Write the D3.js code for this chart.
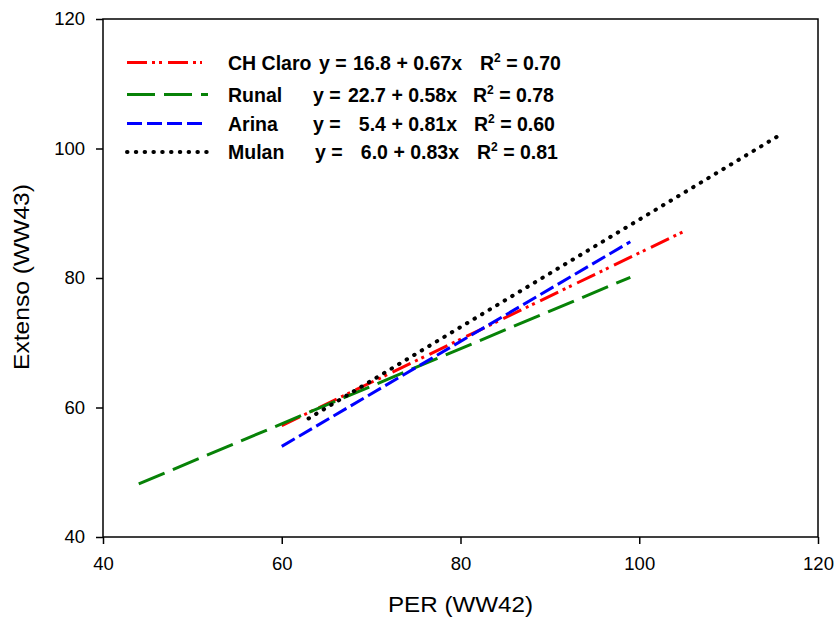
<!DOCTYPE html>
<html>
<head>
<meta charset="utf-8">
<script src="https://cdn.jsdelivr.net/npm/d3@7"></script>
<style>
body{margin:0;background:#fff;}
svg text{font-family:"Liberation Sans",Arial,sans-serif;}
</style>
</head>
<body>
<div id="container"></div>
<script>
// regression lines
var seriesNames=['CH Claro','Runal','Arina','Mulan'];
var intercepts=['16.8','22.7','5.4','6.0'];
var slopes=['0.67','0.58','0.81','0.83'];
var r2Values=['0.70','0.78','0.60','0.81'];
var xStart=[60,44,60,63];
var xEnd=[105,99,99,116];
var yStart=[57.2,48.2,54.0,58.3];
var yEnd=[87.2,80.1,85.6,102.3];
var xTicks=[40,60,80,100,120];
var yTicks=[40,60,80,100,120];

var colors=['#ff0000','#078207','#0000ff','#000000'];
var dashes=['20,5,3,4,3,6','28,9','15,5','0.5,8.3'];
var caps=['butt','butt','butt','round'];

var width=834, height=618;
var pLeft=103, pRight=818, pTop=19, pBottom=537;

var svg=d3.select('#container')
    .append('svg')
    .attr('width',width)
    .attr('height',height)
    .style('background-color','white');

var xScale=d3.scaleLinear().domain([40,120]).range([pLeft,pRight]);
var yScale=d3.scaleLinear().domain([40,120]).range([pBottom,pTop]);

var x_axis=d3.axisBottom(xScale).tickValues(xTicks).tickSize(7).tickPadding(13).tickSizeOuter(0);
var y_axis=d3.axisLeft(yScale).tickValues(yTicks).tickSize(7).tickPadding(11).tickSizeOuter(0);

var gx=svg.append('g')
    .attr('transform','translate(0,'+pBottom+')')
    .call(x_axis);
var gy=svg.append('g')
    .attr('transform','translate('+pLeft+',0)')
    .call(y_axis);

[gx,gy].forEach(function(g){
    g.select('.domain').remove();
    g.selectAll('line').attr('stroke','#000').attr('stroke-width',1.5);
    g.selectAll('text').attr('font-size','18.5px').attr('fill','#000');
});
gx.selectAll('text').attr('dy','0.71em');

// frame
svg.append('rect')
    .attr('x',pLeft).attr('y',pTop)
    .attr('width',pRight-pLeft).attr('height',pBottom-pTop)
    .attr('fill','none').attr('stroke','#000').attr('stroke-width',1.5);

// lines
var line=d3.line().x(function(d){return xScale(d[0]);}).y(function(d){return yScale(d[1]);});
seriesNames.forEach(function(name,i){
    svg.append('path')
        .datum([[xStart[i],yStart[i]],[xEnd[i],yEnd[i]]])
        .attr('d',line)
        .attr('fill','none')
        .attr('stroke',colors[i])
        .attr('stroke-width',i==3?4:3)
        .attr('stroke-dasharray',dashes[i])
        .attr('stroke-linecap',caps[i]);
});

// legend
var legY=[62.5,94.5,123.5,152];
var baseY=[70,102,131,159];
var lineEnd=[202,208,203,209];
var eqStart=[319,313,313,315];
var eqEnd=[462,457,457,459];
var r2X=[480,473,474,477];

seriesNames.forEach(function(name,i){
    svg.append('line')
        .attr('x1',127).attr('x2',lineEnd[i])
        .attr('y1',legY[i]).attr('y2',legY[i])
        .attr('stroke',colors[i])
        .attr('stroke-width',i==3?4:3)
        .attr('stroke-dasharray',dashes[i])
        .attr('stroke-linecap',caps[i]);
    var t=svg.append('g').attr('font-weight','bold').attr('font-size','19.5px').attr('fill','#000');
    t.append('text').attr('x',228).attr('y',baseY[i]).text(name);
    t.append('text').attr('x',eqStart[i]).attr('y',baseY[i]).text('y =');
    t.append('text').attr('x',eqEnd[i]).attr('y',baseY[i]).attr('text-anchor','end')
        .text(intercepts[i]+' + '+slopes[i]+'x');
    var r=t.append('text').attr('x',r2X[i]).attr('y',baseY[i]);
    r.append('tspan').text('R');
    r.append('tspan').attr('font-size','12px').attr('dy',-8).text('2');
    r.append('tspan').attr('dy',8).text(' = '+r2Values[i]);
});

// axis titles (a bit stretched in the original)
svg.append('text')
    .attr('x',460.5).attr('y',612)
    .attr('text-anchor','middle')
    .attr('font-size','21.5px')
    .attr('textLength',145)
    .attr('lengthAdjust','spacingAndGlyphs')
    .text('PER (WW42)');
svg.append('text')
    .attr('transform','translate(28.5,277) rotate(-90)')
    .attr('text-anchor','middle')
    .attr('font-size','21.5px')
    .attr('textLength',186)
    .attr('lengthAdjust','spacingAndGlyphs')
    .text('Extenso (WW43)');
</script>
</body>
</html>
